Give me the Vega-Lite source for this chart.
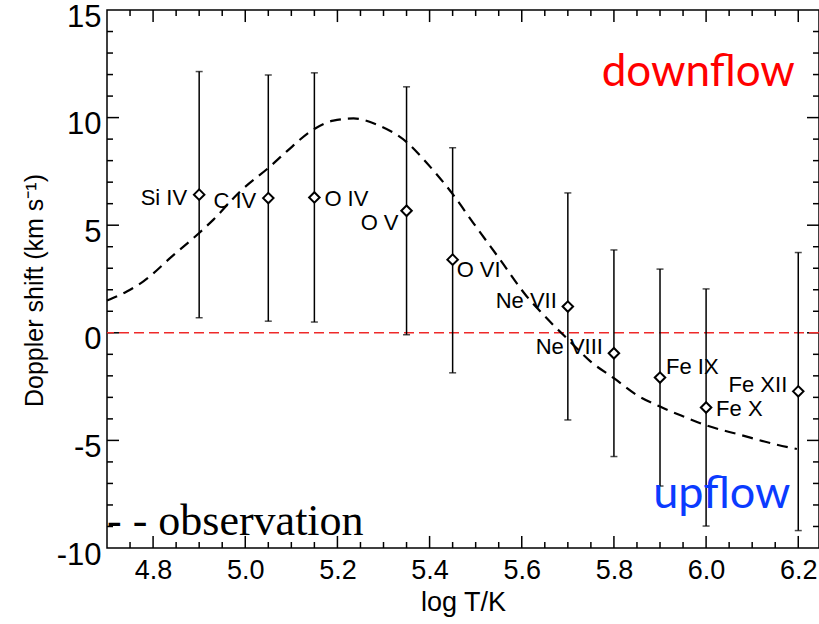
{
  "$schema": "https://vega.github.io/schema/vega-lite/v6.json",
  "width": 712,
  "height": 538,
  "autosize": "none",
  "padding": {"left": 107, "top": 10, "right": 0, "bottom": 76},
  "background": "white",
  "config": {"view": {"stroke": "black", "strokeWidth": 1.5}},
  "datasets": {
    "lines": [
      {"ion": "Si IV", "logT": 4.9, "v": 6.42, "lo": 0.70, "hi": 12.14},
      {"ion": "C IV", "logT": 5.05, "v": 6.26, "lo": 0.54, "hi": 11.98},
      {"ion": "O IV", "logT": 5.15, "v": 6.29, "lo": 0.50, "hi": 12.08},
      {"ion": "O V", "logT": 5.35, "v": 5.67, "lo": -0.09, "hi": 11.43},
      {"ion": "O VI", "logT": 5.45, "v": 3.40, "lo": -1.86, "hi": 8.60},
      {"ion": "Ne VII", "logT": 5.7, "v": 1.22, "lo": -4.05, "hi": 6.50},
      {"ion": "Ne VIII", "logT": 5.8, "v": -0.95, "lo": -5.75, "hi": 3.85},
      {"ion": "Fe IX", "logT": 5.9, "v": -2.08, "lo": -7.12, "hi": 2.96},
      {"ion": "Fe X", "logT": 6.0, "v": -3.47, "lo": -8.98, "hi": 2.04},
      {"ion": "Fe XII", "logT": 6.2, "v": -2.72, "lo": -9.19, "hi": 3.73}
    ],
    "curve": [
      {"logT": 4.70, "v": 1.50},
      {"logT": 4.743, "v": 1.92},
      {"logT": 4.779, "v": 2.39},
      {"logT": 4.841, "v": 3.55},
      {"logT": 4.90, "v": 4.64},
      {"logT": 4.931, "v": 5.26},
      {"logT": 4.989, "v": 6.57},
      {"logT": 5.054, "v": 7.73},
      {"logT": 5.09, "v": 8.43},
      {"logT": 5.148, "v": 9.45},
      {"logT": 5.191, "v": 9.86},
      {"logT": 5.235, "v": 9.96},
      {"logT": 5.286, "v": 9.67},
      {"logT": 5.351, "v": 8.85},
      {"logT": 5.394, "v": 7.89},
      {"logT": 5.451, "v": 6.42},
      {"logT": 5.495, "v": 5.10},
      {"logT": 5.553, "v": 3.40},
      {"logT": 5.611, "v": 1.69},
      {"logT": 5.64, "v": 1.00},
      {"logT": 5.669, "v": 0.35},
      {"logT": 5.70, "v": -0.30},
      {"logT": 5.749, "v": -1.33},
      {"logT": 5.80, "v": -2.11},
      {"logT": 5.85, "v": -2.90},
      {"logT": 5.90, "v": -3.43},
      {"logT": 5.951, "v": -3.89},
      {"logT": 6.00, "v": -4.30},
      {"logT": 6.074, "v": -4.74},
      {"logT": 6.146, "v": -5.16},
      {"logT": 6.197, "v": -5.40}
    ],
    "notes": [
      {"name": "downflow", "logT": 5.983, "v": 11.46},
      {"name": "upflow", "logT": 6.034, "v": -8.15},
      {"name": "- - observation", "logT": 4.70, "v": -9.40}
    ],
    "zero": [{"v": 0}],
    "xmajor": [{"t": 4.8}, {"t": 5.0}, {"t": 5.2}, {"t": 5.4}, {"t": 5.6}, {"t": 5.8}, {"t": 6.0}, {"t": 6.2}],
    "xminor": [
      {"t": 4.75}, {"t": 4.85}, {"t": 4.9}, {"t": 4.95}, {"t": 5.05}, {"t": 5.1}, {"t": 5.15},
      {"t": 5.25}, {"t": 5.3}, {"t": 5.35}, {"t": 5.45}, {"t": 5.5}, {"t": 5.55}, {"t": 5.65},
      {"t": 5.7}, {"t": 5.75}, {"t": 5.85}, {"t": 5.9}, {"t": 5.95}, {"t": 6.05}, {"t": 6.1}, {"t": 6.15}
    ],
    "ymajor": [{"t": -5}, {"t": 0}, {"t": 5}, {"t": 10}],
    "yminor": [
      {"t": -9}, {"t": -8}, {"t": -7}, {"t": -6}, {"t": -4}, {"t": -3}, {"t": -2}, {"t": -1},
      {"t": 1}, {"t": 2}, {"t": 3}, {"t": 4}, {"t": 6}, {"t": 7}, {"t": 8}, {"t": 9},
      {"t": 11}, {"t": 12}, {"t": 13}, {"t": 14}
    ]
  },
  "layer": [
    {
      "data": {"name": "xmajor"},
      "mark": {"type": "rule", "color": "black", "strokeWidth": 1.5},
      "encoding": {"x": {"field": "t", "type": "quantitative"}, "y": {"datum": -10}, "y2": {"datum": -9.44}}
    },
    {
      "data": {"name": "xminor"},
      "mark": {"type": "rule", "color": "black", "strokeWidth": 1.5},
      "encoding": {"x": {"field": "t", "type": "quantitative"}, "y": {"datum": -10}, "y2": {"datum": -9.72}}
    },
    {
      "data": {"name": "xmajor"},
      "mark": {"type": "rule", "color": "black", "strokeWidth": 1.5},
      "encoding": {"x": {"field": "t", "type": "quantitative"}, "y": {"datum": 15}, "y2": {"datum": 14.44}}
    },
    {
      "data": {"name": "xminor"},
      "mark": {"type": "rule", "color": "black", "strokeWidth": 1.5},
      "encoding": {"x": {"field": "t", "type": "quantitative"}, "y": {"datum": 15}, "y2": {"datum": 14.72}}
    },
    {
      "data": {"name": "ymajor"},
      "mark": {"type": "rule", "color": "black", "strokeWidth": 1.5},
      "encoding": {"y": {"field": "t", "type": "quantitative"}, "x": {"datum": 4.7}, "x2": {"datum": 4.726}}
    },
    {
      "data": {"name": "yminor"},
      "mark": {"type": "rule", "color": "black", "strokeWidth": 1.5},
      "encoding": {"y": {"field": "t", "type": "quantitative"}, "x": {"datum": 4.7}, "x2": {"datum": 4.713}}
    },
    {
      "data": {"name": "ymajor"},
      "mark": {"type": "rule", "color": "black", "strokeWidth": 1.5},
      "encoding": {"y": {"field": "t", "type": "quantitative"}, "x": {"datum": 6.245}, "x2": {"datum": 6.219}}
    },
    {
      "data": {"name": "yminor"},
      "mark": {"type": "rule", "color": "black", "strokeWidth": 1.5},
      "encoding": {"y": {"field": "t", "type": "quantitative"}, "x": {"datum": 6.245}, "x2": {"datum": 6.232}}
    },
    {
      "data": {"name": "zero"},
      "mark": {"type": "rule", "color": "#ee2a2a", "strokeWidth": 1.5, "strokeDash": [10, 5]},
      "encoding": {"y": {"field": "v", "type": "quantitative"}}
    },
    {
      "data": {"name": "curve"},
      "mark": {"type": "line", "color": "black", "strokeWidth": 2.2, "strokeDash": [11, 7], "interpolate": "monotone"},
      "encoding": {
        "x": {"field": "logT", "type": "quantitative"},
        "y": {"field": "v", "type": "quantitative"}
      }
    },
    {
      "data": {"name": "lines"},
      "mark": {"type": "rule", "color": "black", "strokeWidth": 1.5},
      "encoding": {
        "x": {
          "field": "logT", "type": "quantitative",
          "scale": {"domain": [4.7, 6.245], "nice": false, "zero": false},
          "axis": {
            "orient": "bottom",
            "values": [4.8, 5.0, 5.2, 5.4, 5.6, 5.8, 6.0, 6.2],
            "format": ".1f",
            "ticks": false, "domain": false, "grid": false,
            "labelFont": "Liberation Sans", "labelFontSize": 27, "labelColor": "black",
            "labelPadding": 9, "labelOverlap": false, "labelFlush": false,
            "title": "log T/K", "titleFont": "Liberation Sans", "titleFontSize": 27,
            "titleFontWeight": "normal", "titleColor": "black", "titlePadding": 6
          }
        },
        "y": {
          "field": "lo", "type": "quantitative",
          "scale": {"domain": [-10, 15], "nice": false, "zero": false},
          "axis": {
            "orient": "left",
            "values": [-10, -5, 0, 5, 10, 15],
            "labelExpr": "'' + datum.value",
            "ticks": false, "domain": false, "grid": false,
            "labelFont": "Liberation Sans", "labelFontSize": 31, "labelColor": "black",
            "labelPadding": 6, "labelOffset": 7, "labelOverlap": false, "labelFlush": false,
            "title": "Doppler shift (km s⁻¹)", "titleFont": "Liberation Sans", "titleFontSize": 25,
            "titleFontWeight": "normal", "titleColor": "black", "titlePadding": 9, "titleY": 280
          }
        },
        "y2": {"field": "hi"}
      }
    },
    {
      "data": {"name": "lines"},
      "mark": {"type": "tick", "orient": "horizontal", "color": "black", "size": 7, "thickness": 1.5},
      "encoding": {
        "x": {"field": "logT", "type": "quantitative"},
        "y": {"field": "lo", "type": "quantitative"}
      }
    },
    {
      "data": {"name": "lines"},
      "mark": {"type": "tick", "orient": "horizontal", "color": "black", "size": 7, "thickness": 1.5},
      "encoding": {
        "x": {"field": "logT", "type": "quantitative"},
        "y": {"field": "hi", "type": "quantitative"}
      }
    },
    {
      "data": {"name": "lines"},
      "mark": {"type": "point", "shape": "diamond", "filled": false, "fill": "white", "fillOpacity": 1, "stroke": "black", "strokeWidth": 2, "size": 110, "opacity": 1},
      "encoding": {
        "x": {"field": "logT", "type": "quantitative"},
        "y": {"field": "v", "type": "quantitative"}
      }
    },
    {
      "data": {"name": "lines"},
      "transform": [{"filter": {"field": "ion", "oneOf": ["Si IV", "C IV"]}}],
      "mark": {"type": "text", "align": "right", "baseline": "middle", "dx": -12, "dy": 3, "font": "Liberation Sans", "fontSize": 22, "color": "black"},
      "encoding": {
        "x": {"field": "logT", "type": "quantitative"},
        "y": {"field": "v", "type": "quantitative"},
        "text": {"field": "ion"}
      }
    },
    {
      "data": {"name": "lines"},
      "transform": [{"filter": {"field": "ion", "oneOf": ["O V"]}}],
      "mark": {"type": "text", "align": "right", "baseline": "middle", "dx": -8, "dy": 12, "font": "Liberation Sans", "fontSize": 22, "color": "black"},
      "encoding": {
        "x": {"field": "logT", "type": "quantitative"},
        "y": {"field": "v", "type": "quantitative"},
        "text": {"field": "ion"}
      }
    },
    {
      "data": {"name": "lines"},
      "transform": [{"filter": {"field": "ion", "oneOf": ["Ne VII", "Ne VIII", "Fe XII"]}}],
      "mark": {"type": "text", "align": "right", "baseline": "middle", "dx": -11, "dy": -6, "font": "Liberation Sans", "fontSize": 22, "color": "black"},
      "encoding": {
        "x": {"field": "logT", "type": "quantitative"},
        "y": {"field": "v", "type": "quantitative"},
        "text": {"field": "ion"}
      }
    },
    {
      "data": {"name": "lines"},
      "transform": [{"filter": {"field": "ion", "oneOf": ["O IV", "Fe X"]}}],
      "mark": {"type": "text", "align": "left", "baseline": "middle", "dx": 10, "dy": 2, "font": "Liberation Sans", "fontSize": 22, "color": "black"},
      "encoding": {
        "x": {"field": "logT", "type": "quantitative"},
        "y": {"field": "v", "type": "quantitative"},
        "text": {"field": "ion"}
      }
    },
    {
      "data": {"name": "lines"},
      "transform": [{"filter": {"field": "ion", "oneOf": ["O VI"]}}],
      "mark": {"type": "text", "align": "left", "baseline": "middle", "dx": 4, "dy": 10, "font": "Liberation Sans", "fontSize": 22, "color": "black"},
      "encoding": {
        "x": {"field": "logT", "type": "quantitative"},
        "y": {"field": "v", "type": "quantitative"},
        "text": {"field": "ion"}
      }
    },
    {
      "data": {"name": "lines"},
      "transform": [{"filter": {"field": "ion", "oneOf": ["Fe IX"]}}],
      "mark": {"type": "text", "align": "left", "baseline": "middle", "dx": 6, "dy": -11, "font": "Liberation Sans", "fontSize": 22, "color": "black"},
      "encoding": {
        "x": {"field": "logT", "type": "quantitative"},
        "y": {"field": "v", "type": "quantitative"},
        "text": {"field": "ion"}
      }
    },
    {
      "data": {"name": "notes"},
      "transform": [{"filter": {"field": "name", "equal": "downflow"}}],
      "mark": {"type": "text", "align": "center", "baseline": "alphabetic", "font": "Lato", "fontSize": 44, "color": "#ff0000"},
      "encoding": {
        "x": {"field": "logT", "type": "quantitative"},
        "y": {"field": "v", "type": "quantitative"},
        "text": {"field": "name"}
      }
    },
    {
      "data": {"name": "notes"},
      "transform": [{"filter": {"field": "name", "equal": "upflow"}}],
      "mark": {"type": "text", "align": "center", "baseline": "alphabetic", "font": "Lato", "fontSize": 45, "color": "#0b3bff"},
      "encoding": {
        "x": {"field": "logT", "type": "quantitative"},
        "y": {"field": "v", "type": "quantitative"},
        "text": {"field": "name"}
      }
    },
    {
      "data": {"name": "notes"},
      "transform": [{"filter": {"field": "name", "equal": "- - observation"}}],
      "mark": {"type": "text", "align": "left", "baseline": "alphabetic", "font": "Liberation Serif", "fontSize": 44, "color": "black"},
      "encoding": {
        "x": {"field": "logT", "type": "quantitative"},
        "y": {"field": "v", "type": "quantitative"},
        "text": {"field": "name"}
      }
    }
  ]
}
